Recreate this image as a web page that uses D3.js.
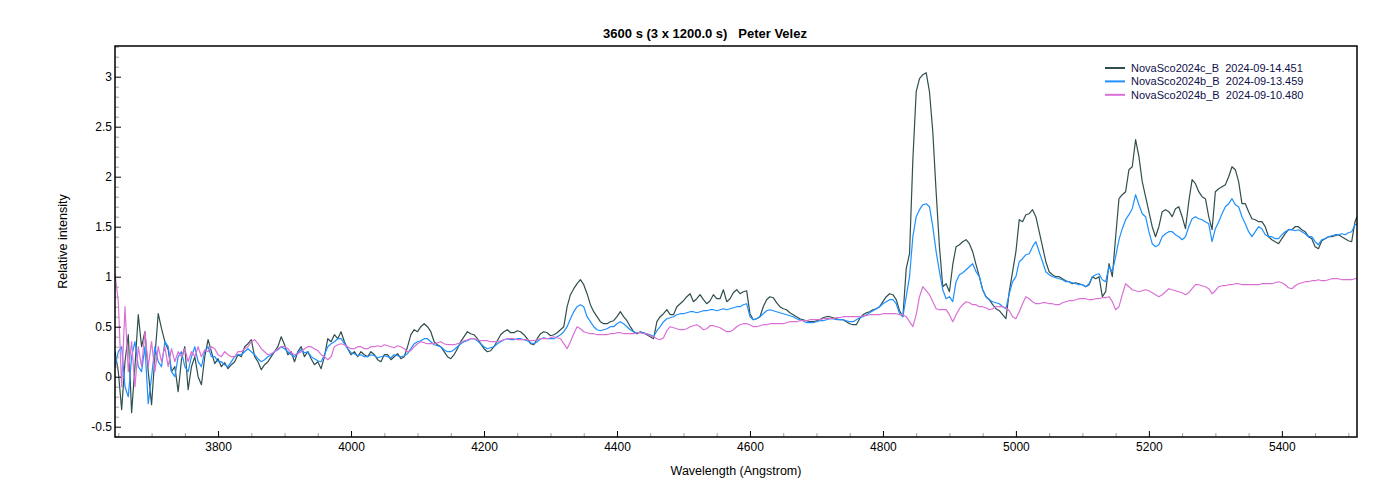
<!doctype html>
<html lang="en">
<head>
  <meta charset="utf-8">
  <title>NovaSco2024 spectra</title>
  <style>
    body { margin: 0; background: #fff; }
    text { font-family: "Liberation Sans", Arial, sans-serif; }
  </style>
</head>
<body>
  <script src="https://cdn.jsdelivr.net/npm/d3@7/dist/d3.min.js"></script>
  <script>
    // wavelength grid: 5 Angstrom steps, 3645 .. 5515 (one row = 100 A)
    var wlStart = 3645
    var wlStep = 5

    // NovaSco2024c_B 2024-09-14.451
    var darkValues = [
      0.25, 0.05, -0.33, 0.15, 0.42, -0.36, 0.1, 0.62, 0.3, 0.45, 0.05, -0.28, 0.2, 0.63, 0.48, 0.35, 0.27, 0.05, 0.1, -0.15,
      0.17, 0.3, -0.13, 0.1, 0.2, 0.0, -0.08, 0.2, 0.37, 0.25, 0.13, 0.18, 0.1, 0.14, 0.08, 0.12, 0.15, 0.22, 0.2, 0.3,
      0.33, 0.37, 0.2, 0.15, 0.07, 0.12, 0.15, 0.2, 0.25, 0.3, 0.4, 0.32, 0.22, 0.25, 0.15, 0.25, 0.3, 0.2, 0.25, 0.18,
      0.12, 0.15, 0.08, 0.2, 0.38, 0.35, 0.42, 0.38, 0.45, 0.35, 0.28, 0.22, 0.25, 0.2, 0.25, 0.22, 0.2, 0.25, 0.22, 0.17,
      0.15, 0.22, 0.22, 0.17, 0.2, 0.23, 0.18, 0.2, 0.3, 0.42, 0.47, 0.45, 0.5, 0.53, 0.5, 0.45, 0.35, 0.32, 0.3, 0.25,
      0.2, 0.18, 0.22, 0.28, 0.35, 0.4, 0.45, 0.43, 0.42, 0.38, 0.33, 0.28, 0.25, 0.26, 0.3, 0.36, 0.42, 0.45, 0.47, 0.44,
      0.44, 0.46, 0.45, 0.42, 0.38, 0.33, 0.32, 0.38, 0.43, 0.45, 0.44, 0.41, 0.42, 0.44, 0.47, 0.5, 0.7, 0.82, 0.88, 0.93,
      0.97, 0.92, 0.83, 0.72, 0.65, 0.6, 0.55, 0.53, 0.53, 0.55, 0.56, 0.6, 0.65, 0.6, 0.56, 0.5, 0.45, 0.43, 0.45, 0.44,
      0.42, 0.4, 0.38, 0.55, 0.6, 0.63, 0.67, 0.62, 0.62, 0.7, 0.73, 0.76, 0.8, 0.83, 0.75, 0.78, 0.82, 0.77, 0.73, 0.76,
      0.82, 0.78, 0.78, 0.87, 0.75, 0.78, 0.84, 0.87, 0.83, 0.85, 0.86, 0.63, 0.57, 0.58, 0.6, 0.7, 0.77, 0.8, 0.79, 0.74,
      0.7, 0.68, 0.67, 0.64, 0.62, 0.6, 0.58, 0.57, 0.56, 0.55, 0.55, 0.56, 0.57, 0.59, 0.6, 0.6, 0.59, 0.58, 0.57, 0.57,
      0.55, 0.53, 0.52, 0.52, 0.58, 0.62, 0.64, 0.65, 0.67, 0.68, 0.7, 0.75, 0.8, 0.83, 0.82, 0.77, 0.66, 0.6, 1.08, 1.23,
      2.17, 2.85, 2.98, 3.02, 3.04, 2.85, 2.45, 1.85, 1.3, 0.9, 0.93, 0.85, 1.12, 1.3, 1.32, 1.35, 1.37, 1.33, 1.25, 1.12,
      1.0, 0.87, 0.8, 0.77, 0.72, 0.68, 0.66, 0.62, 0.58, 0.85, 1.05, 1.25, 1.57, 1.55, 1.62, 1.63, 1.67, 1.6, 1.45, 1.3,
      1.15, 1.05, 1.02, 1.0, 1.0, 0.98, 0.96, 0.95, 0.93, 0.94, 0.93, 0.92, 0.9, 0.92, 1.0, 0.98, 1.0, 0.8, 0.85, 1.13,
      1.0, 1.4, 1.78, 1.82, 1.85, 2.07, 2.1, 2.37, 2.2, 1.95, 1.8, 1.65, 1.5, 1.4, 1.5, 1.65, 1.67, 1.65, 1.6, 1.68,
      1.7, 1.6, 1.48, 1.75, 1.97, 1.93, 1.85, 1.8, 1.78, 1.6, 1.47, 1.85, 1.88, 1.9, 1.92, 2.0, 2.1, 2.07, 1.95, 1.73,
      1.73, 1.65, 1.58, 1.57, 1.55, 1.55, 1.5, 1.4, 1.37, 1.35, 1.33, 1.38, 1.43, 1.47, 1.47, 1.5, 1.5, 1.47, 1.45, 1.4,
      1.38, 1.3, 1.28, 1.36, 1.38, 1.4, 1.4, 1.41, 1.42, 1.4, 1.38, 1.36, 1.35, 1.55, 1.63
    ]

    // NovaSco2024b_B 2024-09-13.459
    var blueValues = [
      0.1, 0.25, 0.3, -0.1, -0.2, 0.2, 0.35, 0.1, 0.05, 0.3, -0.27, 0.0, 0.3, 0.15, 0.1, 0.35, 0.3, 0.05, 0.0, 0.2,
      0.25, 0.1, 0.05, 0.2, 0.3, 0.15, 0.1, 0.25, 0.3, 0.2, 0.2, 0.15, 0.15, 0.12, 0.1, 0.15, 0.2, 0.22, 0.22, 0.25,
      0.28, 0.25, 0.22, 0.18, 0.15, 0.17, 0.2, 0.22, 0.25, 0.27, 0.3, 0.28, 0.25, 0.22, 0.2, 0.24, 0.27, 0.24, 0.25, 0.2,
      0.18, 0.16, 0.15, 0.22, 0.3, 0.33, 0.35, 0.38, 0.38, 0.33, 0.28, 0.24, 0.23, 0.21, 0.22, 0.2, 0.2, 0.22, 0.21, 0.19,
      0.2, 0.21, 0.2, 0.19, 0.22, 0.21, 0.2, 0.21, 0.23, 0.28, 0.33, 0.35, 0.36, 0.38, 0.38, 0.35, 0.32, 0.31, 0.3, 0.27,
      0.25, 0.25, 0.27, 0.3, 0.33, 0.35, 0.36, 0.38, 0.38, 0.36, 0.33, 0.3, 0.28, 0.29, 0.3, 0.33, 0.35, 0.37, 0.38, 0.37,
      0.37, 0.38, 0.38, 0.37, 0.36, 0.34, 0.33, 0.35, 0.38, 0.39, 0.38, 0.38, 0.38, 0.4, 0.42, 0.45, 0.5, 0.58, 0.65, 0.7,
      0.72, 0.7, 0.6, 0.55, 0.5, 0.47, 0.46, 0.47, 0.48, 0.5, 0.5, 0.53, 0.55, 0.53, 0.5, 0.47, 0.45, 0.44, 0.44, 0.44,
      0.43, 0.42, 0.4, 0.46, 0.5, 0.55, 0.58, 0.59, 0.6, 0.62, 0.63, 0.63, 0.64, 0.65, 0.65, 0.64, 0.65, 0.66, 0.66, 0.67,
      0.67, 0.66, 0.67, 0.68, 0.67, 0.68, 0.69, 0.7, 0.7, 0.72, 0.73, 0.6, 0.57, 0.58, 0.6, 0.63, 0.66, 0.67, 0.66, 0.65,
      0.64, 0.63, 0.62, 0.61, 0.6, 0.58, 0.57, 0.56, 0.54, 0.54, 0.54, 0.55, 0.56, 0.56, 0.57, 0.58, 0.58, 0.57, 0.57, 0.57,
      0.56, 0.55, 0.55, 0.57, 0.59, 0.6, 0.62, 0.64, 0.66, 0.68, 0.7, 0.73, 0.75, 0.77, 0.77, 0.73, 0.63, 0.6, 0.8, 1.0,
      1.4, 1.6, 1.67, 1.72, 1.73, 1.7, 1.5, 1.25, 1.05, 0.87, 0.78, 0.8, 0.75, 0.95, 1.02, 1.04, 1.07, 1.1, 1.13, 1.05,
      1.0, 0.87, 0.8, 0.77, 0.75, 0.74, 0.73, 0.7, 0.68, 0.83, 0.95, 1.0, 1.15, 1.18, 1.22, 1.23, 1.3, 1.35, 1.25, 1.15,
      1.05, 1.02, 1.0, 0.99, 0.98, 0.97, 0.95, 0.95, 0.94, 0.93, 0.92, 0.92, 0.9, 0.93, 1.0, 1.02, 1.03, 0.97, 0.95, 1.1,
      1.05, 1.2, 1.37, 1.48, 1.57, 1.62, 1.68, 1.82, 1.72, 1.63, 1.6, 1.45, 1.33, 1.3, 1.32, 1.4, 1.43, 1.45, 1.45, 1.42,
      1.4, 1.37, 1.4, 1.5, 1.58, 1.6, 1.58, 1.57, 1.55, 1.53, 1.35, 1.48, 1.55, 1.63, 1.7, 1.73, 1.78, 1.72, 1.7, 1.6,
      1.53, 1.45, 1.4, 1.45, 1.5, 1.48, 1.42, 1.4, 1.4, 1.38, 1.38, 1.42, 1.45, 1.47, 1.47, 1.46, 1.47, 1.45, 1.43, 1.4,
      1.4, 1.35, 1.32, 1.37, 1.38, 1.4, 1.41, 1.42, 1.42, 1.43, 1.42, 1.44, 1.45, 1.52, 1.53
    ]

    // NovaSco2024b_B 2024-09-10.480
    var pinkValues = [
      1.03, 0.75, -0.1, 0.7, 0.05, 0.35, -0.1, 0.3, 0.1, 0.45, 0.1, 0.35, 0.05, 0.3, 0.15, 0.3, 0.1, 0.28, 0.15, 0.25,
      0.2, 0.28, 0.15, 0.25, 0.2, 0.3, 0.2, 0.27, 0.25, 0.3, 0.28, 0.22, 0.2, 0.25, 0.22, 0.2, 0.2, 0.25, 0.25, 0.28,
      0.3, 0.35, 0.37, 0.33, 0.28, 0.25, 0.22, 0.23, 0.25, 0.28, 0.3, 0.3, 0.28, 0.24, 0.22, 0.23, 0.25, 0.28, 0.3, 0.3,
      0.28, 0.26, 0.22, 0.2, 0.17, 0.2, 0.3, 0.32, 0.33, 0.32, 0.3, 0.28, 0.28, 0.3, 0.3, 0.28, 0.28, 0.3, 0.3, 0.31,
      0.3, 0.32, 0.31, 0.3, 0.29, 0.31, 0.3, 0.28, 0.25, 0.26, 0.3, 0.33, 0.35, 0.34, 0.33, 0.33, 0.33, 0.34, 0.35, 0.33,
      0.32, 0.32, 0.32, 0.33, 0.34, 0.36, 0.37, 0.38, 0.38, 0.37, 0.36, 0.36, 0.36, 0.35, 0.35, 0.35, 0.36, 0.37, 0.38, 0.38,
      0.38, 0.37, 0.37, 0.37, 0.37, 0.36, 0.36, 0.37, 0.38, 0.38, 0.38, 0.39, 0.4, 0.39, 0.38, 0.33, 0.28, 0.35, 0.43, 0.5,
      0.48, 0.45, 0.44, 0.43, 0.43, 0.42, 0.42, 0.42, 0.42, 0.43, 0.43, 0.44, 0.44, 0.43, 0.43, 0.43, 0.43, 0.44, 0.44, 0.43,
      0.43, 0.41, 0.4, 0.38, 0.37, 0.39, 0.46, 0.5, 0.49, 0.48, 0.47, 0.47, 0.48, 0.5, 0.51, 0.52, 0.5, 0.47, 0.48, 0.51,
      0.51, 0.5, 0.49, 0.47, 0.45, 0.45, 0.47, 0.5, 0.52, 0.53, 0.53, 0.52, 0.5, 0.5, 0.51, 0.52, 0.52, 0.53, 0.53, 0.53,
      0.53, 0.53, 0.54, 0.55, 0.55, 0.55, 0.56, 0.56, 0.56, 0.57, 0.57, 0.57, 0.57, 0.58, 0.58, 0.58, 0.58, 0.59, 0.59, 0.6,
      0.6, 0.6, 0.6, 0.6, 0.6, 0.61, 0.61, 0.62, 0.62, 0.62, 0.62, 0.63, 0.63, 0.63, 0.63, 0.63, 0.62, 0.62, 0.6, 0.55,
      0.5, 0.62, 0.8, 0.9, 0.86, 0.82, 0.75, 0.68, 0.67, 0.67, 0.67, 0.62, 0.55, 0.62, 0.68, 0.72, 0.75, 0.74, 0.72, 0.72,
      0.7, 0.7, 0.69, 0.67, 0.68, 0.7, 0.7, 0.7, 0.69, 0.66, 0.6, 0.58, 0.65, 0.73, 0.8, 0.78, 0.75, 0.73, 0.73, 0.74,
      0.74, 0.73, 0.73, 0.72, 0.72, 0.74, 0.75, 0.76, 0.76, 0.77, 0.78, 0.78, 0.78, 0.77, 0.77, 0.78, 0.78, 0.79, 0.79, 0.8,
      0.75, 0.67, 0.7, 0.82, 0.93, 0.9, 0.87, 0.86, 0.85, 0.86, 0.87, 0.86, 0.84, 0.82, 0.8, 0.82, 0.85, 0.88, 0.87, 0.86,
      0.85, 0.84, 0.82, 0.84, 0.88, 0.92, 0.92, 0.91, 0.9, 0.88, 0.83, 0.86, 0.9, 0.91, 0.91, 0.92, 0.92, 0.93, 0.93, 0.92,
      0.92, 0.92, 0.92, 0.92, 0.92, 0.93, 0.93, 0.93, 0.93, 0.94, 0.95, 0.94, 0.92, 0.89, 0.88, 0.91, 0.93, 0.94, 0.95, 0.95,
      0.96, 0.96, 0.97, 0.96, 0.96, 0.97, 0.98, 0.98, 0.98, 0.97, 0.97, 0.97, 0.97, 0.98, 0.98
    ]

    var seriesNames = [
      'NovaSco2024c_B  2024-09-14.451',
      'NovaSco2024b_B  2024-09-13.459',
      'NovaSco2024b_B  2024-09-10.480'
    ]
    var seriesColors = ['#2f4f4f', '#1e90ff', '#da70d6']

    var yMajorTicks = [-0.5, 0, 0.5, 1, 1.5, 2, 2.5, 3]
    var xMajorTicks = [3800, 4000, 4200, 4400, 4600, 4800, 5000, 5200, 5400]

    var margin = { left: 115, right: 43, top: 46, bottom: 63 }
    var width = 1400 - margin.left - margin.right
    var height = 500 - margin.top - margin.bottom

    var svg = d3.select('body').append('svg')
      .attr('width', 1400)
      .attr('height', 500)

    var g = svg.append('g')
      .attr('transform', 'translate(' + margin.left + ',' + margin.top + ')')

    var x = d3.scaleLinear()
      .domain([3645, 5513])
      .range([0, width])

    var y = d3.scaleLinear()
      .domain([-0.603, 3.307])
      .range([height, 0])

    g.append('clipPath')
      .attr('id', 'plot-clip')
    .append('rect')
      .attr('width', width)
      .attr('height', height)

    var series = [darkValues, blueValues, pinkValues].map(function(vals, k) {
      return {
        name: seriesNames[k],
        color: seriesColors[k],
        points: vals.map(function(v, i) { return [wlStart + i * wlStep, v] })
      }
    })

    var line = d3.line()
      .x(function(d) { return x(d[0]) })
      .y(function(d) { return y(d[1]) })

    g.append('g')
      .attr('clip-path', 'url(#plot-clip)')
      .selectAll('path')
      .data(series)
      .enter().append('path')
        .attr('d', function(d) { return line(d.points) })
        .style('fill', 'none')
        .style('stroke', function(d) { return d.color })
        .style('stroke-width', 1.2)
        .style('stroke-linejoin', 'round')

    // minor ticks (grey, inside the frame)
    var xMinor = d3.range(3650, 5513, 50).filter(function(d) { return d % 200 !== 0 })
    var yMinor = d3.range(-6, 34).map(function(d) { return d / 10 })
      .filter(function(d) { return Math.abs(d * 2 - Math.round(d * 2)) > 1e-6 })

    g.append('g')
      .attr('transform', 'translate(0,' + height + ')')
      .call(d3.axisBottom(x).tickValues(xMinor).tickSize(-4).tickFormat(''))
      .call(function(a) { a.select('.domain').remove() })
      .selectAll('line').style('stroke', '#a0a0a0')

    g.append('g')
      .call(d3.axisLeft(y).tickValues(yMinor).tickSize(-4).tickFormat(''))
      .call(function(a) { a.select('.domain').remove() })
      .selectAll('line').style('stroke', '#a0a0a0')

    var xAxis = d3.axisBottom(x)
      .tickValues(xMajorTicks)
      .tickSize(-6)
      .tickPadding(5)
      .tickFormat(d3.format('d'))

    g.append('g')
      .attr('class', 'x axis')
      .attr('transform', 'translate(0,' + height + ')')
      .call(xAxis)
      .call(function(a) { a.select('.domain').remove() })

    var yAxis = d3.axisLeft(y)
      .tickValues(yMajorTicks)
      .tickSize(-6)
      .tickPadding(3)
      .tickFormat(function(d) { return String(d) })

    g.append('g')
      .attr('class', 'y axis')
      .call(yAxis)
      .call(function(a) { a.select('.domain').remove() })

    g.selectAll('.axis text')
      .style('font-size', '12px')
      .style('fill', '#000')
    g.selectAll('.axis line')
      .style('stroke', '#000')

    // frame
    g.append('rect')
      .attr('width', width)
      .attr('height', height)
      .style('fill', 'none')
      .style('stroke', '#000')
      .style('stroke-width', 1.5)

    svg.append('text')
      .attr('x', 705)
      .attr('y', 38)
      .attr('text-anchor', 'middle')
      .style('font-size', '13px')
      .style('font-weight', 'bold')
      .style('white-space', 'pre')
      .text('3600 s (3 x 1200.0 s)   Peter Velez')

    svg.append('text')
      .attr('x', margin.left + width / 2)
      .attr('y', 475)
      .attr('text-anchor', 'middle')
      .style('font-size', '12.5px')
      .text('Wavelength (Angstrom)')

    svg.append('text')
      .attr('transform', 'translate(67,' + (margin.top + height / 2) + ') rotate(-90)')
      .attr('text-anchor', 'middle')
      .style('font-size', '12.5px')
      .text('Relative intensity')

    var legend = svg.append('g')
      .attr('transform', 'translate(1105,68)')
      .selectAll('g')
      .data(series)
      .enter().append('g')
        .attr('transform', function(d, i) { return 'translate(0,' + (i * 13.4) + ')' })

    legend.append('line')
      .attr('x1', 0)
      .attr('x2', 20)
      .style('stroke', function(d) { return d.color })
      .style('stroke-width', 2)

    legend.append('text')
      .attr('x', 26)
      .attr('dy', '0.35em')
      .style('font-size', '11px')
      .style('fill', '#10104a')
      .style('white-space', 'pre')
      .text(function(d) { return d.name })
  </script>
</body>
</html>
